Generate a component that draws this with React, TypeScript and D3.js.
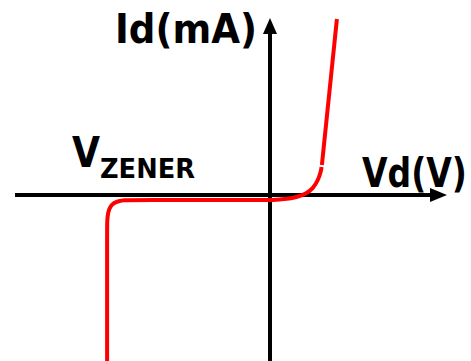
import React from "react";
import * as d3 from "d3";

// Vd in volts, Id in mA (schematic characteristic)
const zenerVd = [-5.43, -5.43, -5.43, -5.40, -5.33, -5.21, -5.05, -4.85, -4.6, 0];
const zenerId = [-16.6, -4.0, -2.6, -1.75, -1.15, -0.8, -0.6, -0.52, -0.5, -0.5];
const kneeVd = [0, 0.5, 0.9, 1.2, 1.43, 1.6, 1.7, 1.72];
const kneeId = [-0.5, -0.43, -0.22, 0.12, 0.65, 1.45, 2.4, 2.8];
const forwardVd = [1.73, 2.23];
const forwardId = [3.0, 17.6];
const axisLabels = ["Vd(V)", "Id(mA)"];
const zenerLabel = ["V", "ZENER"];

const W = 471;
const H = 361;

export default function App() {
  const x = d3.scaleLinear().domain([-8.5, 5.9]).range([15, 447]);
  const y = d3.scaleLinear().domain([-16.6, 17.7]).range([361, 18]);

  const line = d3
    .line<[number, number]>()
    .x((d) => x(d[0]))
    .y((d) => y(d[1]))
    .curve(d3.curveBasis);
  const straight = d3
    .line<[number, number]>()
    .x((d) => x(d[0]))
    .y((d) => y(d[1]));

  const zip = (a: number[], b: number[]) => a.map((v, i) => [v, b[i]] as [number, number]);

  const x0 = x(0);
  const y0 = y(0);
  const [xMin, xMax] = x.range();
  const [yMin, yMax] = y.range();
  const font = "'Comic Sans MS', 'DejaVu Sans', sans-serif";

  return (
    <svg
      width={W}
      height={H}
      style={{ position: "absolute", left: 0, top: 0, background: "#fff" }}
    >
      {/* axes */}
      <line x1={xMin} x2={xMax - 16} y1={y0} y2={y0} stroke="#000" strokeWidth={4} />
      <path d={`M${xMax},${y0} L${xMax - 17},${y0 - 7} L${xMax - 17},${y0 + 7} Z`} fill="#000" />
      <line x1={x0} x2={x0} y1={yMin} y2={yMax + 15} stroke="#000" strokeWidth={4} />
      <path d={`M${x0},${yMax} L${x0 - 7},${yMax + 16} L${x0 + 7},${yMax + 16} Z`} fill="#000" />

      {/* characteristic */}
      <path d={line(zip(zenerVd, zenerId)) || ""} fill="none" stroke="#ff0000" strokeWidth={4} />
      <path d={line(zip(kneeVd, kneeId)) || ""} fill="none" stroke="#ff0000" strokeWidth={4} />
      <path d={straight(zip(forwardVd, forwardId)) || ""} fill="none" stroke="#ff0000" strokeWidth={4} />

      {/* labels */}
      <text x={115} y={43} fontFamily={font} fontWeight="bold" fontSize={40} textLength={142} lengthAdjust="spacingAndGlyphs" fill="#000">
        {axisLabels[1]}
      </text>
      <g transform="translate(362,187) scale(1,1.25)">
        <text x={0} y={0} fontFamily={font} fontWeight="bold" fontSize={33} fill="#000">
          {axisLabels[0]}
        </text>
      </g>
      <text x={72} y={167} fontFamily={font} fontWeight="bold" fontSize={43} textLength={28} lengthAdjust="spacingAndGlyphs" fill="#000">
        {zenerLabel[0]}
      </text>
      <text x={100} y={178} fontFamily={font} fontWeight="bold" fontSize={27} textLength={95} lengthAdjust="spacingAndGlyphs" fill="#000">
        {zenerLabel[1]}
      </text>
    </svg>
  );
}
